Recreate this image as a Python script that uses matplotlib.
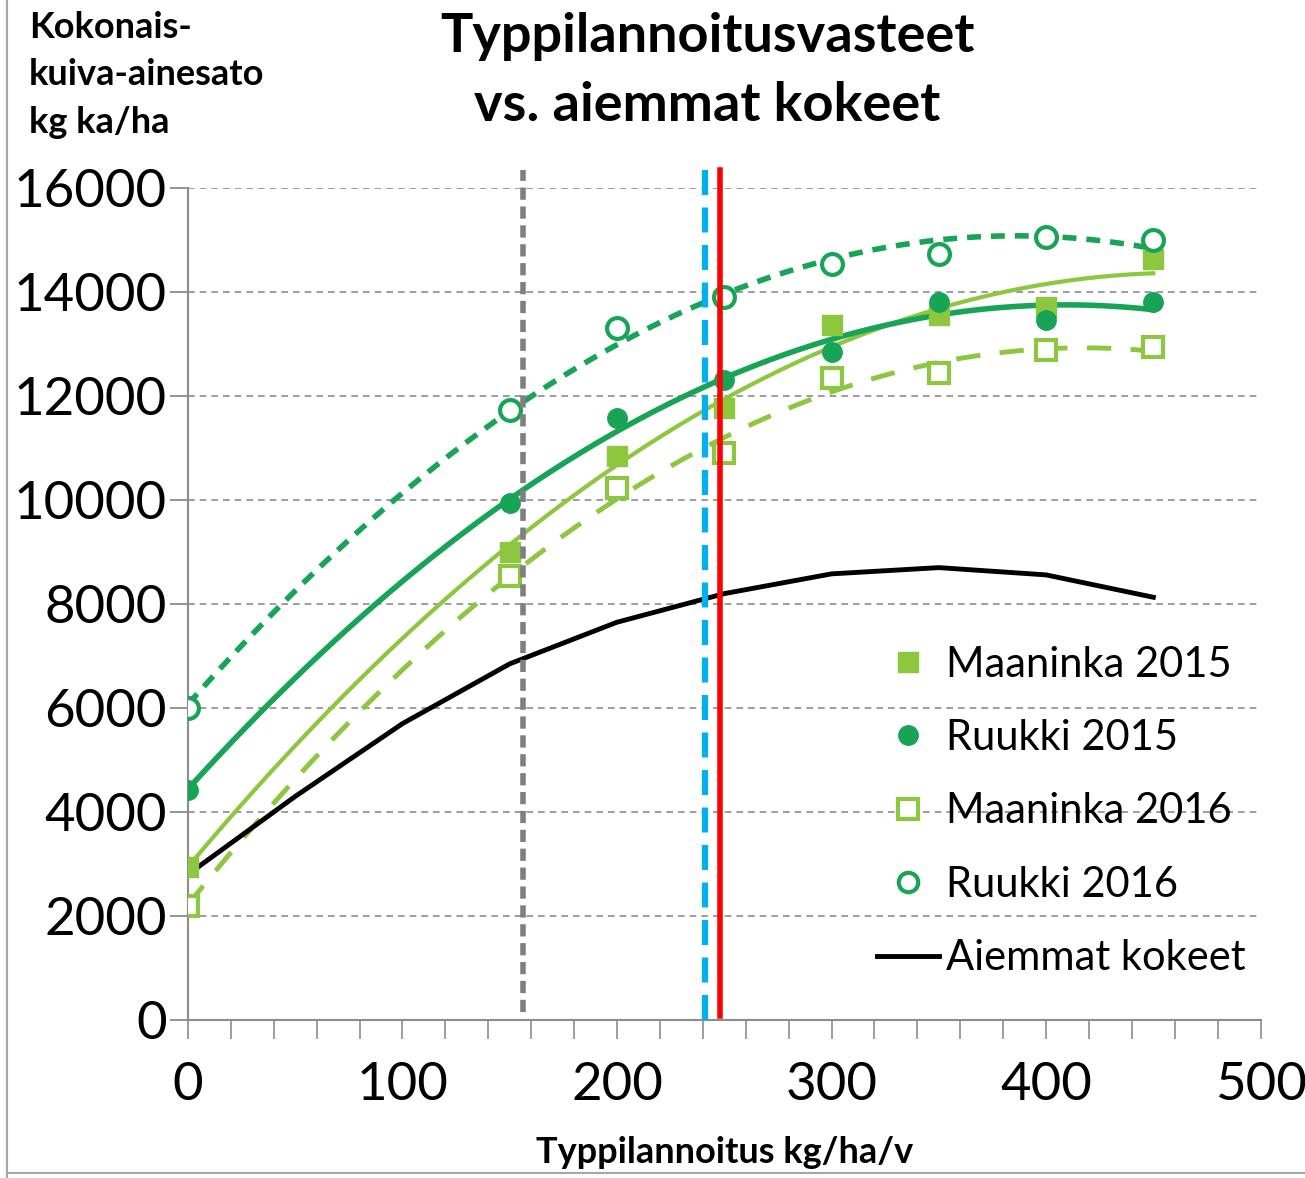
import numpy as np
import matplotlib.pyplot as plt
from matplotlib.lines import Line2D

plt.rcParams['font.family'] = ['Lato', 'DejaVu Sans']

# typpilannoitus (kg/ha/v) ja kokonaiskuiva-ainesato (kg ka/ha)
typpi = [0, 150, 200, 250, 300, 350, 400, 450]
maaninka2015 = [2950, 9000, 10850, 11770, 13370, 13560, 13710, 14630]
ruukki2015 = [4420, 9940, 11580, 12310, 12850, 13810, 13460, 13810]
maaninka2016 = [2190, 8540, 10230, 10900, 12350, 12440, 12880, 12940]
ruukki2016 = [6000, 11730, 13310, 13900, 14540, 14730, 15060, 15000]

aiemmat_x = [0, 50, 100, 150, 200, 250, 300, 350, 400, 450]
aiemmat_y = [2800, 4300, 5700, 6850, 7650, 8200, 8580, 8700, 8560, 8130]

# pystyviivat
harmaa_x = 156
sininen_x = 241
punainen_x = 248

VAALEA = '#8DC63F'
TUMMA = '#17A457'

fig = plt.figure(figsize=(13.05, 11.78), dpi=100)
ax = fig.add_axes([0.144, 0.1341, 0.822, 0.7063])

xs = np.linspace(0, 450, 200)

def trend(y):
    c = np.polyfit(typpi, y, 2)
    return np.polyval(c, xs)

# trendiviivat
ax.plot(xs, trend(maaninka2015), color=VAALEA, lw=3, zorder=3)
ax.plot(xs, trend(ruukki2015), color=TUMMA, lw=4, zorder=3)
ax.plot(xs, trend(maaninka2016), color=VAALEA, lw=3.5, ls=(0, (5, 4)), zorder=3)
ax.plot(xs, trend(ruukki2016), color=TUMMA, lw=4, ls=(0, (2.5, 1.8)), zorder=3)

ax.plot(aiemmat_x, aiemmat_y, color='black', lw=3.5, zorder=4)

# mittauspisteet
ax.plot(typpi, maaninka2015, 's', color=VAALEA, ms=14, ls='none', zorder=5)
ax.plot(typpi, ruukki2015, 'o', color=TUMMA, ms=14, ls='none', zorder=5)
ax.plot(typpi, maaninka2016, 's', mfc='white', mec=VAALEA, mew=3, ms=14, ls='none', zorder=5)
ax.plot(typpi, ruukki2016, 'o', mfc='white', mec=TUMMA, mew=3, ms=15, ls='none', zorder=5)

ax.axvline(harmaa_x, ymin=0.01, ymax=1.022, color='#7F7F7F', lw=4, ls=(0, (2.2, 1.2)), clip_on=False, zorder=6)
ax.axvline(sininen_x, ymin=0.0, ymax=1.022, color='#00B0F0', lw=4.5, ls=(0, (4, 2)), clip_on=False, zorder=6)
ax.axvline(punainen_x, ymin=0.005, ymax=1.022, color='#FF0000', lw=4, clip_on=False, zorder=7)

ax.set_xlim(0, 500)
ax.set_ylim(0, 16000)
ax.set_xticks(range(0, 501, 100))
ax.set_xticks(range(0, 501, 20), minor=True)
ax.set_yticks(range(0, 16001, 2000))

ax.yaxis.grid(True, color='#8C8C8C', ls=(0, (4, 3)), lw=1.2)
ax.set_axisbelow(True)

for s in ['top', 'right']:
    ax.spines[s].set_visible(False)
for s in ['left', 'bottom']:
    ax.spines[s].set_color('#8C8C8C')
    ax.spines[s].set_linewidth(1.5)

ax.tick_params(axis='y', direction='out', length=13, width=1.3, color='#8C8C8C',
               labelsize=38, pad=2)
ax.tick_params(axis='x', which='both', direction='out', length=14, width=1.2,
               color='#8C8C8C', labelsize=38, pad=16)

ax.set_xlabel('Typpilannoitus kg/ha/v', fontsize=26, fontweight='bold', labelpad=20)

fig.text(0.022, 0.991, 'Kokonais-\nkuiva-ainesato\nkg ka/ha', fontsize=26,
         fontweight='bold', ha='left', va='top', linespacing=1.55)
fig.text(0.542, 0.99, 'Typpilannoitusvasteet\nvs. aiemmat kokeet', fontsize=39,
         fontweight='bold', ha='center', va='top', linespacing=1.5)

handles = [
    Line2D([], [], marker='s', color=VAALEA, ls='none', ms=14),
    Line2D([], [], marker='o', color=TUMMA, ls='none', ms=14),
    Line2D([], [], marker='s', mfc='white', mec=VAALEA, mew=3, ls='none', ms=14),
    Line2D([], [], marker='o', mfc='white', mec=TUMMA, mew=3, ls='none', ms=14),
    Line2D([], [], color='black', lw=3.5),
]
labels = ['Maaninka 2015', 'Ruukki 2015', 'Maaninka 2016', 'Ruukki 2016', 'Aiemmat kokeet']
leg = fig.legend(handles, labels, loc='upper left', bbox_to_anchor=(0.672, 0.452),
                 frameon=False, fontsize=30, handlelength=1.5, handletextpad=0.15,
                 labelspacing=0.85, borderpad=0, borderaxespad=0)

# kehys vasemmalla ja alhaalla
fig.add_artist(Line2D([0.005, 0.005], [0.0, 1.0], color='#A6A6A6', lw=1.5))
fig.add_artist(Line2D([0.005, 1.0], [0.004, 0.004], color='#A6A6A6', lw=1.5))

fig.savefig('out.png', dpi=100)
